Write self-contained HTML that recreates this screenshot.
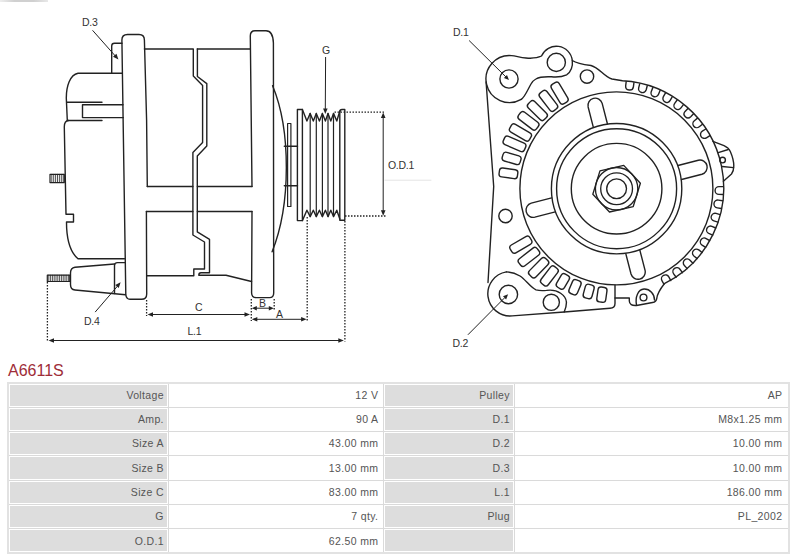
<!DOCTYPE html>
<html><head><meta charset="utf-8">
<style>
html,body{margin:0;padding:0;background:#fff;}
body{width:800px;height:558px;position:relative;overflow:hidden;font-family:"Liberation Sans",sans-serif;}
svg.draw{position:absolute;left:0;top:0;}
.lbl{position:absolute;font-size:10.5px;color:#333;line-height:1;white-space:nowrap;letter-spacing:-0.3px;}
.title{position:absolute;left:8px;top:362.5px;font-size:16px;color:#9e2d38;line-height:16px;}
.tb{position:absolute;}
.cell{position:absolute;font-size:10.5px;color:#555;line-height:10.5px;letter-spacing:0.35px;white-space:nowrap;}
</style></head><body>
<svg class="draw" width="800" height="360" viewBox="0 0 800 360">
<g fill="none" stroke="#222" stroke-width="1.4" stroke-linejoin="round" stroke-linecap="round">
<line x1="92.8" y1="30.6" x2="115.5" y2="56.2" stroke-width="1"/>
<path d="M118.40,59.40 L113.03,56.82 L116.47,53.76 Z" fill="#222" stroke="none"/>
<path d="M111.7,73.2 V46 Q111.7,43.3 114.5,43.3 H122"/>
<path d="M146.4,211.5 L146.7,294 Q146.7,299.3 141.5,299.3 H130 Q126.2,299.3 125.8,294.5 L121.9,40 Q121.9,34.5 127.5,34.5 H139 Q144.4,34.5 144.4,40 L146.6,120 L147.3,186.5"/>
<path d="M121.9,73.3 H78 C70,75 66.3,86 66.3,98 L67.3,120.5 H102"/>
<path d="M67,102.3 H102"/>
<path d="M123,104.8 H82.5 V117.6 H123.3"/>
<path d="M124.5,258.8 H78 C70,252 66.5,240 66.5,222 H73.5 V214.2 H66 L64.3,127 Q64.3,120.8 68.5,120.5"/>
<rect x="50" y="174.3" width="14.3" height="8.3" stroke-width="1.2"/>
<line x1="51.80" y1="174.3" x2="51.80" y2="182.6" stroke-width="0.8"/>
<line x1="53.70" y1="174.3" x2="53.70" y2="182.6" stroke-width="0.8"/>
<line x1="55.60" y1="174.3" x2="55.60" y2="182.6" stroke-width="0.8"/>
<line x1="57.50" y1="174.3" x2="57.50" y2="182.6" stroke-width="0.8"/>
<line x1="59.40" y1="174.3" x2="59.40" y2="182.6" stroke-width="0.8"/>
<line x1="61.30" y1="174.3" x2="61.30" y2="182.6" stroke-width="0.8"/>
<line x1="63.20" y1="174.3" x2="63.20" y2="182.6" stroke-width="0.8"/>
<path d="M125.4,262.6 H117.5 Q114.5,262.6 114.5,265.5 V293.5"/>
<path d="M114.5,264 L75,267.3 Q70.5,268 70.5,273 V284.5 Q70.5,289.6 75,290 L125.5,294.8"/>
<rect x="47.3" y="275.2" width="22.5" height="6.3" stroke-width="1.2"/>
<line x1="48.80" y1="275.2" x2="48.80" y2="281.5" stroke-width="0.8"/>
<line x1="50.60" y1="275.2" x2="50.60" y2="281.5" stroke-width="0.8"/>
<line x1="52.40" y1="275.2" x2="52.40" y2="281.5" stroke-width="0.8"/>
<line x1="54.20" y1="275.2" x2="54.20" y2="281.5" stroke-width="0.8"/>
<line x1="56.00" y1="275.2" x2="56.00" y2="281.5" stroke-width="0.8"/>
<line x1="57.80" y1="275.2" x2="57.80" y2="281.5" stroke-width="0.8"/>
<line x1="59.60" y1="275.2" x2="59.60" y2="281.5" stroke-width="0.8"/>
<line x1="61.40" y1="275.2" x2="61.40" y2="281.5" stroke-width="0.8"/>
<line x1="63.20" y1="275.2" x2="63.20" y2="281.5" stroke-width="0.8"/>
<line x1="65.00" y1="275.2" x2="65.00" y2="281.5" stroke-width="0.8"/>
<line x1="66.80" y1="275.2" x2="66.80" y2="281.5" stroke-width="0.8"/>
<line x1="68.60" y1="275.2" x2="68.60" y2="281.5" stroke-width="0.8"/>
<line x1="95.4" y1="311.8" x2="118.3" y2="285.2" stroke-width="1"/>
<path d="M120.60,282.30 L118.78,287.98 L115.28,284.99 Z" fill="#222" stroke="none"/>
<path d="M144.4,49 H193.3 V76 L202.6,85.4 V142.5 L192.9,152.4 V235 L204.5,242 V269 H193.8 V275.8 H146.9"/>
<path d="M197.3,49 H250"/>
<path d="M197.4,49 V76.5 L206.8,83.6 V146 L197.3,156 V231.9 L209.5,239.4 V272.7 H201 Q198.8,272.7 198.8,275.2 H226 L251.5,281.5"/>
<path d="M147.3,186.5 H192.9 M197.4,186.5 H252"/>
<path d="M146.4,211.5 H192.9 M197.4,211.5 H252"/>
<path d="M252,211.5 L251.6,293 Q251.8,297.6 256,297.6 H269.5 Q273.7,297.6 273.7,293 L273.4,43 Q273,30.8 266,30.8 H255 Q250.3,30.8 250.3,36 L252,186.5"/>
<path d="M272.6,85.7 C291,130 291,205 272.1,251.8"/>
<rect x="287.6" y="123.5" width="3.3" height="83" stroke-width="1.2"/>
<path d="M284.3,146.3 H297.5 M284.3,185.8 H297.5"/>
<path d="M297.4,220.6 V109.5 H302.4 V220.6 Z"/>
<path d="M339.8,220.3 V112 Q339.8,109.5 342,109.5 H344.8 V220.3 Z"/>
<path d="M302.4,109.5 L306.9,121 L310.2,113.4 L313.3,121 L316.3,113.4 L319.4,121 L322.4,113.4 L325.4,121 L328.0,113.4 L330.8,121 L333.5,113.4 L336.8,121 L339.8,111"/>
<path d="M302.4,220.6 L306.9,210.2 L310.2,216.6 L313.3,210.2 L316.3,216.6 L319.4,210.2 L322.4,216.6 L325.4,210.2 L328.0,216.6 L330.8,210.2 L333.5,216.6 L336.8,210.2 L339.8,219"/>
<line x1="310.2" y1="113.4" x2="310.2" y2="216.6" stroke-width="1.2"/>
<line x1="316.3" y1="113.4" x2="316.3" y2="216.6" stroke-width="1.2"/>
<line x1="322.4" y1="113.4" x2="322.4" y2="216.6" stroke-width="1.2"/>
<line x1="328.0" y1="113.4" x2="328.0" y2="216.6" stroke-width="1.2"/>
<line x1="333.5" y1="113.4" x2="333.5" y2="216.6" stroke-width="1.2"/>
<line x1="334.5" y1="112.2" x2="385" y2="112.2" stroke-width="1.3" stroke-dasharray="1.5,1.5" stroke-linecap="butt"/>
<line x1="345" y1="216" x2="386" y2="216" stroke-width="1.3" stroke-dasharray="1.5,1.5" stroke-linecap="butt"/>
<line x1="383.2" y1="117" x2="383.2" y2="211" stroke-width="1"/>
<path d="M383.20,112.40 L385.50,117.90 L380.90,117.90 Z" fill="#222" stroke="none"/>
<path d="M383.20,215.80 L380.90,210.30 L385.50,210.30 Z" fill="#222" stroke="none"/>
<line x1="385" y1="180.2" x2="431" y2="180.2" stroke="#ddd" stroke-width="0.8"/>
<line x1="325.6" y1="57.4" x2="325.3" y2="109" stroke-width="1"/>
<path d="M325.30,114.00 L323.05,108.48 L327.65,108.52 Z" fill="#222" stroke="none"/>
<line x1="47.4" y1="282" x2="47.4" y2="342" stroke-width="1.3" stroke-dasharray="1.5,1.5" stroke-linecap="butt"/>
<line x1="146.6" y1="300" x2="146.6" y2="316" stroke-width="1.3" stroke-dasharray="1.5,1.5" stroke-linecap="butt"/>
<line x1="251.3" y1="299" x2="251.3" y2="321" stroke-width="1.3" stroke-dasharray="1.5,1.5" stroke-linecap="butt"/>
<line x1="274.2" y1="299" x2="274.2" y2="309.5" stroke-width="1.3" stroke-dasharray="1.5,1.5" stroke-linecap="butt"/>
<line x1="307.2" y1="217" x2="307.2" y2="320.5" stroke-width="1.3" stroke-dasharray="1.5,1.5" stroke-linecap="butt"/>
<line x1="344.9" y1="221" x2="344.9" y2="341.5" stroke-width="1.3" stroke-dasharray="1.5,1.5" stroke-linecap="butt"/>
<line x1="151" y1="314.5" x2="246" y2="314.5" stroke-width="1"/>
<path d="M147.50,314.50 L153.00,312.20 L153.00,316.80 Z" fill="#222" stroke="none"/>
<path d="M250.00,314.50 L244.50,316.80 L244.50,312.20 Z" fill="#222" stroke="none"/>
<line x1="255" y1="308.2" x2="270" y2="308.2" stroke-width="1"/>
<path d="M251.80,308.20 L256.80,306.00 L256.80,310.40 Z" fill="#222" stroke="none"/>
<path d="M273.80,308.20 L268.80,310.40 L268.80,306.00 Z" fill="#222" stroke="none"/>
<line x1="256" y1="319.3" x2="302" y2="319.3" stroke-width="1"/>
<path d="M251.80,319.30 L257.30,317.00 L257.30,321.60 Z" fill="#222" stroke="none"/>
<path d="M306.60,319.30 L301.10,321.60 L301.10,317.00 Z" fill="#222" stroke="none"/>
<line x1="52" y1="340.5" x2="339" y2="340.5" stroke-width="1"/>
<path d="M48.50,340.50 L54.00,338.20 L54.00,342.80 Z" fill="#222" stroke="none"/>
<path d="M343.80,340.50 L338.30,342.80 L338.30,338.20 Z" fill="#222" stroke="none"/>
<circle cx="616.4" cy="188.4" r="96.5"/>
<circle cx="616.6" cy="188.7" r="65.2"/>
<circle cx="616.6" cy="188.7" r="60.0"/>
<circle cx="616.6" cy="188.7" r="45.3"/>
<circle cx="616.6" cy="188.7" r="21.2" stroke-width="1.35"/>
<circle cx="616.6" cy="188.7" r="15.9" stroke-width="1.35"/>
<circle cx="616.6" cy="188.7" r="9.9" stroke-width="1.35"/>
<polygon points="640.37,183.21 633.24,206.55 609.47,212.03 592.83,194.19 599.96,170.85 623.73,165.37" stroke-width="1.35"/>
<path d="M681.55,179.51 L701.94,174.27 A7.25,7.25 0 0 0 698.34,160.23 L677.95,165.46"/>
<path d="M625.79,253.65 L631.03,274.04 A7.25,7.25 0 0 0 645.07,270.44 L639.84,250.05"/>
<path d="M551.65,197.89 L531.26,203.13 A7.25,7.25 0 0 0 534.86,217.17 L555.25,211.94"/>
<path d="M607.41,123.75 L602.17,103.36 A7.25,7.25 0 0 0 588.13,106.96 L593.36,127.35"/>
<rect x="-9.25" y="-4.50" width="18.50" height="9.00" rx="3.0" transform="translate(508.44,173.31) rotate(188.10)"/>
<rect x="-9.30" y="-4.50" width="18.60" height="9.00" rx="3.0" transform="translate(511.59,158.39) rotate(196.10)"/>
<rect x="-11.50" y="-4.50" width="23.00" height="9.00" rx="3.0" transform="translate(514.50,143.88) rotate(203.70)"/>
<rect x="-11.40" y="-4.50" width="22.80" height="9.00" rx="3.0" transform="translate(520.42,132.50) rotate(210.30)"/>
<rect x="-11.25" y="-4.50" width="22.50" height="9.00" rx="3.0" transform="translate(528.46,120.82) rotate(217.60)"/>
<rect x="-11.25" y="-4.50" width="22.50" height="9.00" rx="3.0" transform="translate(537.39,110.59) rotate(224.60)"/>
<rect x="-11.25" y="-4.50" width="22.50" height="9.00" rx="3.0" transform="translate(548.41,100.80) rotate(232.20)"/>
<rect x="-11.30" y="-4.50" width="22.60" height="9.00" rx="3.0" transform="translate(559.61,93.10) rotate(239.20)"/>
<rect x="-7.50" y="-4.50" width="15.00" height="9.00" rx="3.0" transform="translate(601.89,294.68) rotate(97.90)"/>
<rect x="-7.00" y="-4.50" width="14.00" height="9.00" rx="3.0" transform="translate(588.68,291.47) rotate(105.20)"/>
<rect x="-7.45" y="-4.50" width="14.90" height="9.00" rx="3.0" transform="translate(574.98,287.22) rotate(112.90)"/>
<rect x="-7.65" y="-4.50" width="15.30" height="9.00" rx="3.0" transform="translate(562.86,281.40) rotate(120.10)"/>
<rect x="-10.65" y="-4.50" width="21.30" height="9.00" rx="3.0" transform="translate(549.39,275.97) rotate(127.60)"/>
<rect x="-11.50" y="-4.50" width="23.00" height="9.00" rx="3.0" transform="translate(538.66,267.73) rotate(134.60)"/>
<rect x="-11.60" y="-4.50" width="23.20" height="9.00" rx="3.0" transform="translate(528.93,256.95) rotate(142.10)"/>
<rect x="-11.40" y="-4.50" width="22.80" height="9.00" rx="3.0" transform="translate(520.85,244.65) rotate(149.70)"/>
<path d="M633.92,82.73 L633.40,86.80 A3.90,3.90 0 0 1 625.67,85.82 L626.18,81.76"/>
<path d="M647.24,85.79 L646.21,89.76 A3.90,3.90 0 0 1 638.66,87.81 L639.69,83.84"/>
<path d="M660.07,90.52 L658.55,94.33 A3.90,3.90 0 0 1 651.30,91.43 L652.83,87.63"/>
<path d="M672.19,96.84 L670.20,100.42 A3.90,3.90 0 0 1 663.38,96.63 L665.38,93.05"/>
<path d="M683.41,104.65 L680.98,107.95 A3.90,3.90 0 0 1 674.70,103.32 L677.13,100.02"/>
<path d="M693.55,113.82 L690.72,116.78 A3.90,3.90 0 0 1 685.08,111.40 L687.91,108.43"/>
<path d="M702.44,124.20 L699.26,126.79 A3.90,3.90 0 0 1 694.35,120.72 L697.53,118.14"/>
<path d="M709.94,135.64 L706.45,137.79 A3.90,3.90 0 0 1 702.35,131.15 L705.84,129.00"/>
<path d="M723.12,194.46 L718.92,194.39 A3.90,3.90 0 0 1 719.05,186.59 L723.25,186.66"/>
<path d="M721.43,208.44 L717.28,207.82 A3.90,3.90 0 0 1 718.44,200.10 L722.59,200.73"/>
<path d="M717.91,222.08 L713.88,220.91 A3.90,3.90 0 0 1 716.05,213.42 L720.08,214.59"/>
<path d="M712.63,235.14 L708.79,233.45 A3.90,3.90 0 0 1 711.92,226.31 L715.77,227.99"/>
<path d="M705.68,247.38 L702.09,245.20 A3.90,3.90 0 0 1 706.14,238.54 L709.73,240.72"/>
<path d="M697.17,258.61 L693.90,255.97 A3.90,3.90 0 0 1 698.79,249.90 L702.07,252.53"/>
<path d="M687.26,268.61 L684.37,265.57 A3.90,3.90 0 0 1 690.02,260.19 L692.91,263.23"/>
<path d="M676.12,277.22 L673.65,273.83 A3.90,3.90 0 0 1 679.96,269.24 L682.43,272.64"/>
<path d="M663.94,284.29 L661.94,280.60 A3.90,3.90 0 0 1 668.80,276.88 L670.80,280.58"/>
<circle cx="509" cy="79" r="9.1"/>
<circle cx="508.4" cy="294.5" r="9.2"/>
<circle cx="556.3" cy="62.4" r="9.1"/>
<circle cx="551.3" cy="302.3" r="8.1"/>
<circle cx="587" cy="76.6" r="6.7"/>
<circle cx="505.5" cy="216" r="6.7"/>
<circle cx="643.5" cy="297.5" r="3.4"/>
<circle cx="722.6" cy="160.1" r="2.8"/>
<path d="M521.25,99.35 A23.5,23.5 0 1 1 511.55,55.6 C516,56 520,57.5 526,58 C532,58.5 537,58.3 541.5,56 A16.1,16.1 0 0 1 572.3,60.5 C576,63 583,64.5 591,65.5 C600,68 603,76 612,79 L622.48,80.77 A107.2,107.2 0 0 1 664.33,283.74 C661,288 657.3,293.5 656.8,298.3 Q656.3,301.8 652.5,302.5 L636.5,305.5 Q629.5,306 629.3,301 V298 H615 "/>
<path d="M486.1,82 L493.7,186.5 L488,282.5"/>
<path d="M712.9,141.3 L724,145.6 Q728.5,147.5 730.3,151.5 C732.5,156.5 733.8,161 733.8,166 C733.8,169.5 733,172 731.5,174 L723.4,181.2"/>
<path d="M718.2,152.6 L728.3,149.5 M722.2,166.5 L733.6,167.6"/>
<path d="M615,285.3 V303.5 Q615,308 610,308.2 L564.2,312 L512.15,315.9 A22.2,22.2 0 0 1 506.4,271.9"/>
<path d="M521.25,99.35 C525,97 528,89 531,84 C532.5,81.5 534,80 535.9,79 C540,76.5 545,76.5 551.5,76.8 C557,77.3 562,77 566.6,74.8 C571,72.5 573,66 572.3,60.5"/>
<path d="M506.4,271.9 C512,272 516,273.5 520,276 C526,280 530,287 536,289.9 C540,291 543,290.8 546.5,290.4 C558,288.5 566,296 566.4,302 C566.6,306 565.5,309 564.2,312"/>
<path d="M636.5,305 C635,297 638,289.5 644,289 C650,288.8 654.5,294 654.5,300"/>
<line x1="469.4" y1="40.8" x2="505.6" y2="76.6" stroke-width="1"/>
<path d="M509.00,80.00 L503.90,78.05 L506.99,74.92 Z" fill="#222" stroke="none"/>
<line x1="468.2" y1="334.5" x2="504.6" y2="297.8" stroke-width="1"/>
<path d="M508.10,294.30 L506.14,299.40 L503.02,296.30 Z" fill="#222" stroke="none"/>
</g>
</svg>
<div class="lbl" style="left:82px;top:17px">D.3</div>
<div class="lbl" style="left:322px;top:45px">G</div>
<div class="lbl" style="left:388px;top:160px">O.D.1</div>
<div class="lbl" style="left:84px;top:316px">D.4</div>
<div class="lbl" style="left:195px;top:302px">C</div>
<div class="lbl" style="left:259px;top:298px">B</div>
<div class="lbl" style="left:276px;top:309px">A</div>
<div class="lbl" style="left:187.5px;top:326px">L.1</div>
<div class="lbl" style="left:453px;top:27px">D.1</div>
<div class="lbl" style="left:452.5px;top:338px">D.2</div>
<div style="position:absolute;left:0;top:0;width:48px;height:1.5px;background:linear-gradient(90deg,#eee,#d0d0d0 30%,#d0d0d0 70%,#e8e8e8)"></div>
<div class="title">A6611S</div>
<div style="position:absolute;left:7px;top:382px;width:783px;height:172px;border:2px solid #e2e2e2;box-sizing:border-box"></div>
<div style="position:absolute;left:9px;top:407px;width:779px;height:1px;background:#dadada"></div>
<div style="position:absolute;left:9px;top:431px;width:779px;height:1px;background:#dadada"></div>
<div style="position:absolute;left:9px;top:455px;width:779px;height:1px;background:#dadada"></div>
<div style="position:absolute;left:9px;top:480px;width:779px;height:1px;background:#dadada"></div>
<div style="position:absolute;left:9px;top:504px;width:779px;height:1px;background:#dadada"></div>
<div style="position:absolute;left:9px;top:528px;width:779px;height:1px;background:#dadada"></div>
<div style="position:absolute;left:168px;top:384px;width:1px;height:168px;background:#dadada"></div>
<div style="position:absolute;left:383px;top:384px;width:1px;height:168px;background:#dadada"></div>
<div style="position:absolute;left:514px;top:384px;width:1px;height:168px;background:#dadada"></div>
<div style="position:absolute;left:10px;top:385px;width:157px;height:21px;background:#dddddd"></div>
<div style="position:absolute;left:385px;top:385px;width:128px;height:21px;background:#dddddd"></div>
<div style="position:absolute;left:10px;top:409px;width:157px;height:21px;background:#dddddd"></div>
<div style="position:absolute;left:385px;top:409px;width:128px;height:21px;background:#dddddd"></div>
<div style="position:absolute;left:10px;top:433px;width:157px;height:21px;background:#dddddd"></div>
<div style="position:absolute;left:385px;top:433px;width:128px;height:21px;background:#dddddd"></div>
<div style="position:absolute;left:10px;top:457px;width:157px;height:22px;background:#dddddd"></div>
<div style="position:absolute;left:385px;top:457px;width:128px;height:22px;background:#dddddd"></div>
<div style="position:absolute;left:10px;top:482px;width:157px;height:21px;background:#dddddd"></div>
<div style="position:absolute;left:385px;top:482px;width:128px;height:21px;background:#dddddd"></div>
<div style="position:absolute;left:10px;top:506px;width:157px;height:21px;background:#dddddd"></div>
<div style="position:absolute;left:385px;top:506px;width:128px;height:21px;background:#dddddd"></div>
<div style="position:absolute;left:10px;top:530px;width:157px;height:21px;background:#dddddd"></div>
<div style="position:absolute;left:385px;top:530px;width:128px;height:21px;background:#dddddd"></div>
<div class="cell" style="right:636.15px;top:389.50px">Voltage</div>
<div class="cell" style="right:421.65px;top:389.50px">12 V</div>
<div class="cell" style="right:290.15px;top:389.50px">Pulley</div>
<div class="cell" style="right:17.65px;top:389.50px">AP</div>
<div class="cell" style="right:636.15px;top:413.89px">Amp.</div>
<div class="cell" style="right:421.65px;top:413.89px">90 A</div>
<div class="cell" style="right:290.15px;top:413.89px">D.1</div>
<div class="cell" style="right:17.65px;top:413.89px">M8x1.25 mm</div>
<div class="cell" style="right:636.15px;top:438.28px">Size A</div>
<div class="cell" style="right:421.65px;top:438.28px">43.00 mm</div>
<div class="cell" style="right:290.15px;top:438.28px">D.2</div>
<div class="cell" style="right:17.65px;top:438.28px">10.00 mm</div>
<div class="cell" style="right:636.15px;top:462.67px">Size B</div>
<div class="cell" style="right:421.65px;top:462.67px">13.00 mm</div>
<div class="cell" style="right:290.15px;top:462.67px">D.3</div>
<div class="cell" style="right:17.65px;top:462.67px">10.00 mm</div>
<div class="cell" style="right:636.15px;top:487.06px">Size C</div>
<div class="cell" style="right:421.65px;top:487.06px">83.00 mm</div>
<div class="cell" style="right:290.15px;top:487.06px">L.1</div>
<div class="cell" style="right:17.65px;top:487.06px">186.00 mm</div>
<div class="cell" style="right:636.15px;top:511.45px">G</div>
<div class="cell" style="right:421.65px;top:511.45px">7 qty.</div>
<div class="cell" style="right:290.15px;top:511.45px">Plug</div>
<div class="cell" style="right:17.65px;top:511.45px">PL_2002</div>
<div class="cell" style="right:636.15px;top:535.84px">O.D.1</div>
<div class="cell" style="right:421.65px;top:535.84px">62.50 mm</div>
</body></html>
